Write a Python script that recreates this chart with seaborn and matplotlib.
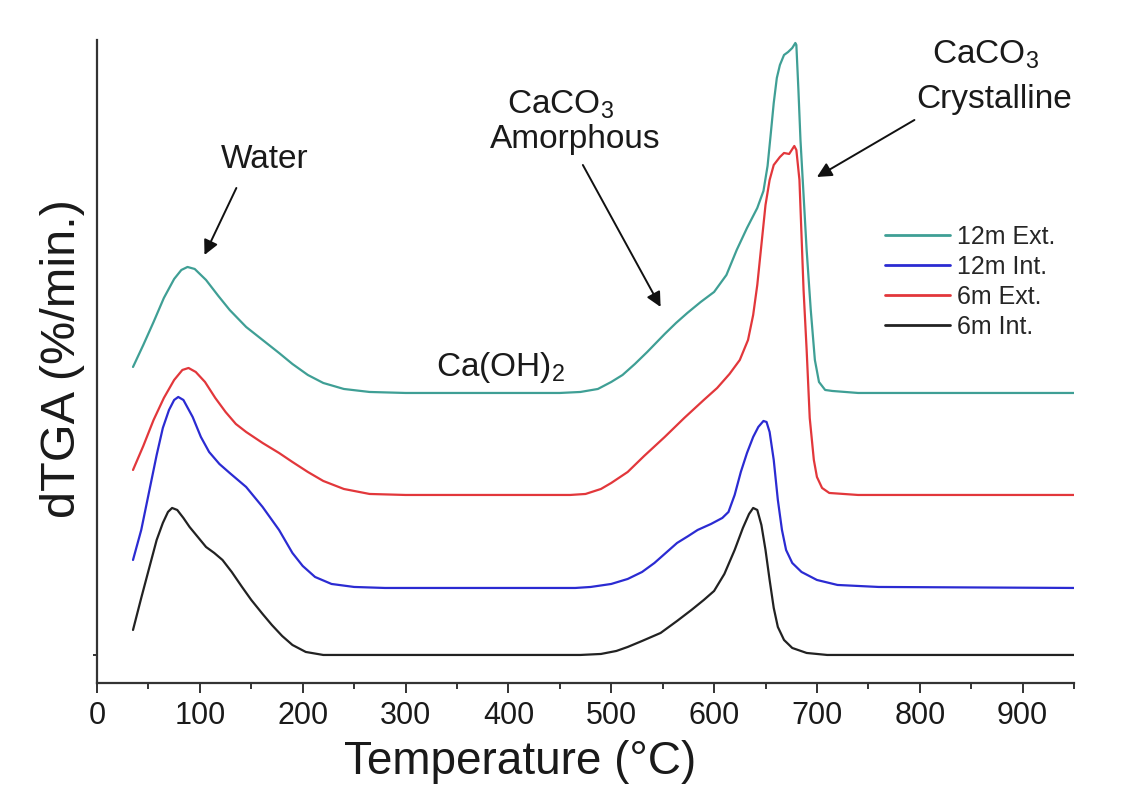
import numpy as np
import pandas as pd
import matplotlib
matplotlib.use("Agg")
import matplotlib.pyplot as plt
import seaborn as sns

# dTGA curves (%/min., relative to each curve's own baseline) vs temperature (°C)
temp_12m_ext = [35, 45, 55, 65, 75, 82, 88, 95, 106, 118, 129, 145, 161, 177, 190, 205, 220, 240, 265, 300,
                450, 470, 487, 500, 511, 523, 535, 552, 563, 574, 587, 600, 612, 622, 632, 642, 648, 652, 655,
                658, 661, 664, 668, 672, 676, 679, 680, 682, 684, 687, 690, 694, 698, 702, 708, 715, 740, 950]
dtga_12m_ext = [0.26, 0.48, 0.71, 0.95, 1.14, 1.23, 1.26, 1.24, 1.13, 0.97, 0.83, 0.66, 0.53, 0.40, 0.29, 0.18,
                0.10, 0.04, 0.01, 0.00, 0.00, 0.01, 0.04, 0.11, 0.18, 0.29, 0.41, 0.59, 0.70, 0.80, 0.91, 1.01,
                1.18, 1.43, 1.65, 1.85, 2.02, 2.27, 2.58, 2.90, 3.15, 3.28, 3.38, 3.41, 3.45, 3.50, 3.48, 3.03,
                2.53, 1.98, 1.43, 0.83, 0.33, 0.11, 0.03, 0.02, 0.00, 0.00]

temp_12m_int = [35, 43, 51, 58, 64, 70, 75, 79, 84, 93, 101, 109, 119, 129, 145, 161, 177, 190, 200, 212, 228,
                250, 280, 465, 480, 500, 516, 530, 542, 553, 564, 575, 584, 597, 608, 614, 620, 626, 632, 638,
                643, 648, 651, 654, 658, 662, 666, 670, 676, 685, 700, 720, 760, 950]
dtga_12m_int = [0.28, 0.58, 0.98, 1.33, 1.60, 1.78, 1.88, 1.91, 1.88, 1.71, 1.51, 1.36, 1.24, 1.15, 1.01, 0.81,
                0.58, 0.35, 0.22, 0.11, 0.04, 0.01, 0.00, 0.00, 0.01, 0.04, 0.09, 0.16, 0.25, 0.35, 0.45, 0.52,
                0.58, 0.64, 0.70, 0.76, 0.93, 1.16, 1.35, 1.51, 1.61, 1.67, 1.66, 1.56, 1.28, 0.88, 0.58, 0.38,
                0.25, 0.16, 0.08, 0.03, 0.01, 0.00]

temp_6m_ext = [35, 45, 55, 65, 75, 83, 89, 96, 105, 115, 125, 135, 145, 161, 177, 190, 205, 220, 240, 265, 300,
               460, 475, 490, 500, 516, 532, 552, 571, 590, 603, 615, 625, 633, 638, 642, 646, 650, 654, 658,
               664, 668, 673, 678, 680, 683, 687, 690, 693, 697, 700, 705, 712, 740, 950]
dtga_6m_ext = [0.25, 0.49, 0.75, 0.97, 1.15, 1.25, 1.27, 1.23, 1.13, 0.97, 0.83, 0.71, 0.63, 0.52, 0.42, 0.33,
               0.23, 0.14, 0.06, 0.01, 0.00, 0.00, 0.01, 0.06, 0.12, 0.23, 0.39, 0.58, 0.77, 0.95, 1.07, 1.21,
               1.35, 1.55, 1.80, 2.10, 2.50, 2.90, 3.15, 3.30, 3.38, 3.42, 3.41, 3.49, 3.45, 3.15, 2.05, 1.45,
               0.77, 0.35, 0.18, 0.07, 0.02, 0.00, 0.00]

temp_6m_int = [35, 43, 51, 58, 64, 69, 73, 78, 84, 90, 98, 106, 114, 122, 131, 141, 150, 161, 170, 180, 190,
               203, 220, 250, 470, 490, 505, 516, 530, 548, 564, 578, 590, 600, 610, 620, 628, 634, 638, 642,
               646, 650, 654, 658, 662, 668, 676, 690, 710, 950]
dtga_6m_int = [0.25, 0.57, 0.88, 1.15, 1.32, 1.43, 1.47, 1.45, 1.37, 1.28, 1.18, 1.08, 1.02, 0.95, 0.83, 0.68,
               0.55, 0.41, 0.30, 0.19, 0.10, 0.03, 0.00, 0.00, 0.00, 0.01, 0.04, 0.08, 0.14, 0.22, 0.34, 0.45,
               0.55, 0.64, 0.81, 1.05, 1.27, 1.41, 1.47, 1.45, 1.30, 1.05, 0.75, 0.47, 0.28, 0.15, 0.07, 0.02,
               0.00, 0.00]

series_names = ["12m Ext.", "12m Int.", "6m Ext.", "6m Int."]
series_temps = [temp_12m_ext, temp_12m_int, temp_6m_ext, temp_6m_int]
series_dtga = [dtga_12m_ext, dtga_12m_int, dtga_6m_ext, dtga_6m_int]
# vertical stacking offsets of each curve
series_offsets = [2.90, 0.95, 1.88, 0.28]
series_colors = ["#3f9f95", "#2b2bd2", "#e2373b", "#222222"]

frames = []
for name, t, d, off in zip(series_names, series_temps, series_dtga, series_offsets):
    frames.append(pd.DataFrame({"Temperature": t,
                                "dTGA": np.asarray(d) + off,
                                "Sample": name}))
df = pd.concat(frames, ignore_index=True)

sns.set_theme(style="ticks")
plt.rcParams["font.family"] = ["Liberation Sans", "DejaVu Sans"]
plt.rcParams["mathtext.default"] = "regular"

fig = plt.figure(figsize=(11.32, 7.87), dpi=100)
ax = fig.add_axes([0.0857, 0.1322, 0.8631, 0.8170])

sns.lineplot(data=df, x="Temperature", y="dTGA", hue="Sample", hue_order=series_names,
             palette=dict(zip(series_names, series_colors)), estimator=None, sort=False,
             linewidth=1.6, ax=ax)

ax.set_xlim(0, 950)
ax.set_ylim(0, 6.43)
ax.set_xticks(np.arange(0, 901, 100))
ax.set_xticks(np.arange(50, 951, 100), minor=True)
ax.set_yticks([series_offsets[3]])
ax.set_yticklabels([])
ax.tick_params(axis="x", which="major", length=7, width=1.4, direction="out",
               labelsize=22, pad=6, color="#333333", labelcolor="#1a1a1a")
ax.tick_params(axis="x", which="minor", length=4, width=1.4, direction="out", color="#333333")
ax.tick_params(axis="y", length=3, width=1.4, direction="out", color="#333333")

for side in ["top", "right"]:
    ax.spines[side].set_visible(False)
for side in ["left", "bottom"]:
    ax.spines[side].set_linewidth(1.6)
    ax.spines[side].set_color("#333333")

ax.set_xlabel("Temperature (°C)", fontsize=33, color="#1a1a1a", va="baseline")
ax.xaxis.set_label_coords(0.433, -0.1415)
ax.set_ylabel("dTGA (%/min.)", fontsize=35, color="#1a1a1a")
ax.yaxis.set_label_coords(-0.012, 0.505)

handles, labels = ax.get_legend_handles_labels()
leg = ax.legend(handles, labels, loc="upper left", bbox_to_anchor=(0.8065, 0.712),
                frameon=False, fontsize=18, handlelength=2.6, handletextpad=0.3,
                labelspacing=0.24, borderpad=0, borderaxespad=0)
for line in leg.get_lines():
    line.set_linewidth(2.0)

arrow = dict(arrowstyle="-|>", color="#111111", lw=1.4, mutation_scale=22, shrinkA=0, shrinkB=0)
txt = dict(fontsize=24, color="#1a1a1a", ha="center", va="center")

ax.annotate("", xy=(104.5, 4.28), xytext=(135.5, 4.95), arrowprops=arrow)
ax.text(162.6, 5.23, "Water", **txt)

ax.annotate("", xy=(548, 3.76), xytext=(472.4, 5.18), arrowprops=arrow)
ax.text(451, 5.78, "CaCO$_3$", **txt)
ax.text(464.7, 5.43, "Amorphous", **txt)

ax.text(392, 3.15, "Ca(OH)$_2$", **txt)

ax.annotate("", xy=(700, 5.06), xytext=(794.8, 5.63), arrowprops=arrow)
ax.text(863.5, 6.28, "CaCO$_3$", **txt)
ax.text(872, 5.83, "Crystalline", **txt)

fig.savefig("out.png", dpi=100)
